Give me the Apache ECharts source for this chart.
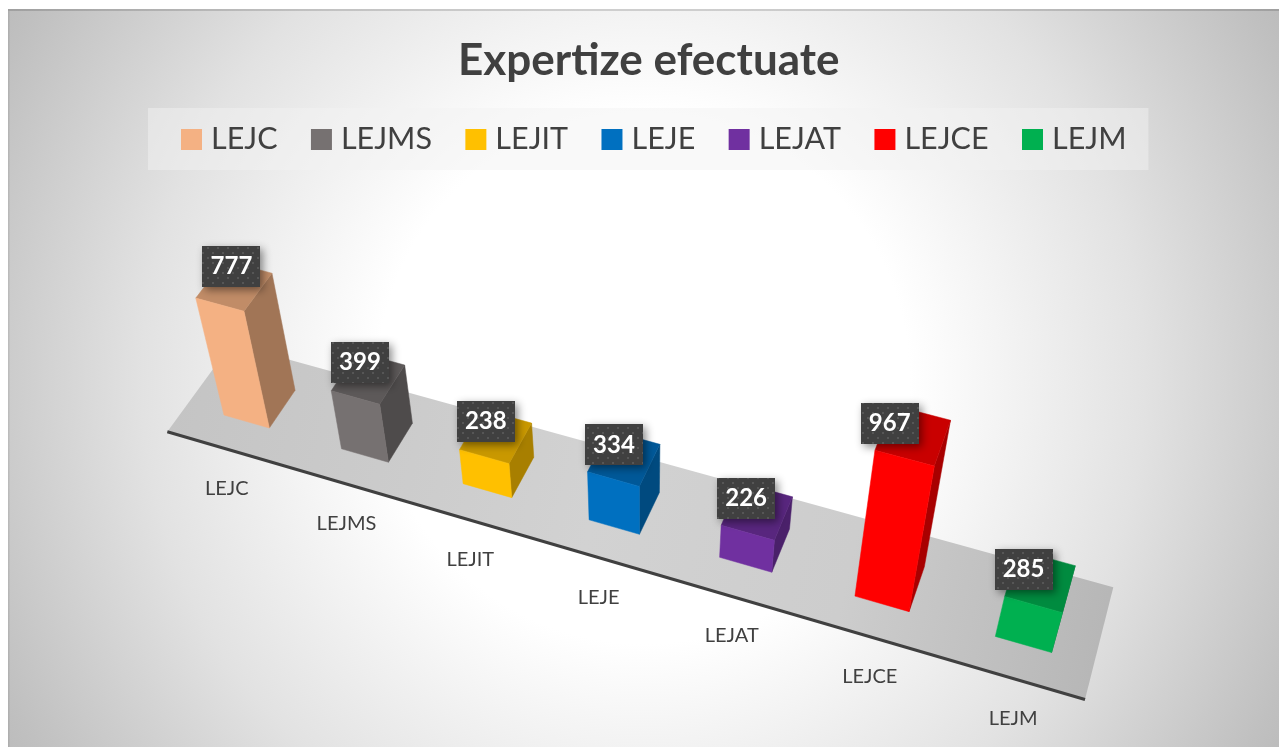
<!DOCTYPE html>
<html>
<head>
<meta charset="utf-8">
<style>html,body{margin:0;padding:0;background:#fff}#c{width:1279px;height:747px}</style>
<script src="https://cdn.jsdelivr.net/npm/echarts@6/dist/echarts.min.js"></script>
</head>
<body>
<div id="c"></div>
<script>
const chartTitle = 'Expertize efectuate';
const categories = ['LEJC', 'LEJMS', 'LEJIT', 'LEJE', 'LEJAT', 'LEJCE', 'LEJM'];
const values = [777, 399, 238, 334, 226, 967, 285];
const colors = ['#F4B183', '#767171', '#FFC000', '#0070C0', '#7030A0', '#FF0000', '#00B050'];

/* Scene: the perspective of the tilted floor plane */
const F = { A: [167.3, 431.7], B: [1085, 699.5], C: [1113.3, 587.3], D: [231.5, 343.7] };
const VP = [642, 2148], KAPPA = 0.082;
const BAR_W = 0.39, V_FRONT = 0.30, V_BACK = 0.72, U_SHIFT = 0.0022;
const TEXT = '#404040', FONT = 'Lato';
/* small placement adjustments of the value boxes relative to each bar's top */
const labelNudge = [[0.5, -4], [-3.5, 0], [-3.5, 1.5], [-1.5, 4.5], [-0.5, 6], [-9, 8], [-1.5, 9]];

const H = (function () {
  const [x0, y0] = F.A, [x1, y1] = F.B, [x2, y2] = F.C, [x3, y3] = F.D;
  const dx1 = x1 - x2, dx2 = x3 - x2, sx = x0 - x1 + x2 - x3;
  const dy1 = y1 - y2, dy2 = y3 - y2, sy = y0 - y1 + y2 - y3;
  const det = dx1 * dy2 - dx2 * dy1;
  const g = (sx * dy2 - dx2 * sy) / det, h = (dx1 * sy - sx * dy1) / det;
  return { a: x1 - x0 + g * x1, b: x3 - x0 + h * x3, c: x0, d: y1 - y0 + g * y1, e: y3 - y0 + h * y3, f: y0, g, h };
})();
function project(u, v, frac) {
  const w = H.g * u + H.h * v + 1;
  const bx = (H.a * u + H.b * v + H.c) / w, by = (H.d * u + H.e * v + H.f) / w;
  const t = -(frac || 0) * KAPPA / w;
  return [(bx + t * VP[0]) / (1 + t), (by + t * VP[1]) / (1 + t)];
}
function shade(hex, k) {
  const n = parseInt(hex.slice(1), 16);
  return 'rgb(' + [n >> 16 & 255, n >> 8 & 255, n & 255].map(c => Math.round(c * k)).join(',') + ')';
}
const dots = (function () {
  const cv = document.createElement('canvas'); cv.width = cv.height = 10;
  const x = cv.getContext('2d');
  x.fillStyle = '#404040'; x.fillRect(0, 0, 10, 10);
  x.fillStyle = '#565656';
  x.fillRect(2, 2, 2, 2); x.fillRect(7, 7, 2, 2);
  return cv;
})();

function renderBar(params, api) {
  const cs = params.coordSys;
  const idx = api.value(0), val = api.value(1);
  const p0 = api.coord([idx, 0]), p1 = api.coord([idx, val]);
  const frac = (p0[1] - p1[1]) / cs.height;
  const uc = (p0[0] - cs.x) / cs.width + U_SHIFT;
  const hw = api.size([1, 0])[0] / cs.width * BAR_W / 2;
  const color = api.visual('color');
  const poly = (pts, fill, z2) => ({ type: 'polygon', silent: true, z2: z2 || 1, shape: { points: pts }, style: { fill, stroke: fill, lineWidth: 0.5 } });
  const FL = project(uc - hw, V_FRONT, 0), FR = project(uc + hw, V_FRONT, 0), BR = project(uc + hw, V_BACK, 0);
  const TFL = project(uc - hw, V_FRONT, frac), TFR = project(uc + hw, V_FRONT, frac);
  const TBR = project(uc + hw, V_BACK, frac), TBL = project(uc - hw, V_BACK, frac);
  const cx = TBL[0] + 6.5 + labelNudge[idx][0], cy = TBL[1] + 10 + labelNudge[idx][1];
  const foot = project(uc, 0, 0);
  return {
    type: 'group',
    children: [
      poly([FR, BR, TBR, TFR], shade(color, 0.66), 1),
      poly([TFL, TFR, TBR, TBL], shade(color, 0.79), 2),
      poly([FL, FR, TFR, TFL], color, 3),
      {
        type: 'rect', silent: true, z2: 10,
        shape: { x: Math.round(cx - 29), y: Math.round(cy - 20.5), width: 58, height: 41 },
        style: { fill: { image: dots, repeat: 'repeat' }, shadowColor: 'rgba(0,0,0,0.45)', shadowBlur: 9, shadowOffsetX: 3, shadowOffsetY: 3 }
      },
      {
        type: 'text', silent: true, z2: 11,
        style: { x: cx, y: cy, text: String(val), fill: '#fff', font: 'bold 24px ' + FONT, align: 'center', verticalAlign: 'middle' }
      },
      {
        type: 'text', silent: true, z2: 4,
        style: { x: foot[0] - 0.5, y: foot[1] + 39.5, text: categories[idx], fill: TEXT, font: '20px ' + FONT, align: 'center', verticalAlign: 'middle' }
      }
    ]
  };
}
function renderFloor() {
  return {
    type: 'group',
    children: [
      {
        type: 'polygon', silent: true,
        shape: { points: [F.A, F.B, F.C, F.D] },
        style: {
          fill: {
            type: 'linear', x: 0, y: 0.2, x2: 1, y2: 0.8,
            colorStops: [{ offset: 0, color: '#c4c4c4' }, { offset: 0.45, color: '#d2d2d2' }, { offset: 0.72, color: '#cdcdcd' }, { offset: 1, color: '#b6b6b6' }]
          }
        }
      },
      {
        type: 'line', silent: true,
        shape: { x1: F.A[0], y1: F.A[1], x2: F.B[0], y2: F.B[1] },
        style: { stroke: '#404040', lineWidth: 3 }
      }
    ]
  };
}

const series = [{
  type: 'custom', coordinateSystem: 'cartesian2d', renderItem: renderFloor, silent: true, z: 1,
  data: [[categories[0], 0]], encode: { x: 0, y: 1 }
}].concat(categories.map((c, i) => ({
  type: 'custom', coordinateSystem: 'cartesian2d', name: c, z: 2 + i, renderItem: renderBar,
  itemStyle: { color: colors[i] }, encode: { x: 0, y: 1 },
  data: [[c, values[i]]]
})));

const chart = echarts.init(document.getElementById('c'), null, { renderer: 'canvas' });
chart.setOption({
  animation: false,
  backgroundColor: '#fff',
  graphic: [
    {
      type: 'rect', silent: true, z: -10,
      shape: { x: 8, y: 9, width: 1271, height: 738 },
      style: {
        fill: {
          type: 'radial', x: 0.5, y: 0.5, r: 1,
          colorStops: [{ offset: 0, color: '#ffffff' }, { offset: 0.36, color: '#ffffff' }, { offset: 0.68, color: '#e2e2e2' }, { offset: 0.96, color: '#c0c0c0' }, { offset: 1, color: '#bcbcbc' }]
        }
      }
    },
    { type: 'rect', silent: true, z: -9, shape: { x: 8, y: 9, width: 1271, height: 2 }, style: { fill: 'rgba(0,0,0,0.15)' } },
    { type: 'rect', silent: true, z: -9, shape: { x: 8, y: 11, width: 1.5, height: 736 }, style: { fill: 'rgba(0,0,0,0.08)' } }
  ],
  title: {
    text: chartTitle, left: 458, top: 39, padding: 0,
    textStyle: { color: TEXT, fontFamily: FONT, fontWeight: 'bold', fontSize: 44 }
  },
  legend: {
    data: categories, left: 148, top: 108, orient: 'horizontal',
    padding: [16, 22, 15, 33], itemGap: 33.4, itemWidth: 21, itemHeight: 21, icon: 'rect',
    backgroundColor: 'rgba(242,242,242,0.48)', selectedMode: false,
    textStyle: { color: TEXT, fontFamily: FONT, fontSize: 30.5, padding: [0, 0, 0, 4] }
  },
  grid: { left: 0, right: 0, top: 0, bottom: 0, show: false },
  xAxis: { type: 'category', data: categories, show: false },
  yAxis: { type: 'value', min: 0, max: 1000, show: false },
  tooltip: { show: false },
  series
});
</script>
</body>
</html>
